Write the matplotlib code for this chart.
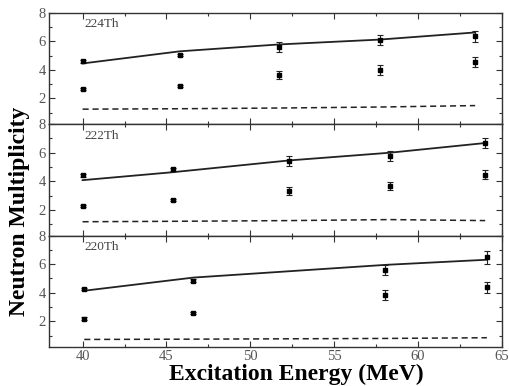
import matplotlib
matplotlib.use("Agg")
import matplotlib.pyplot as plt
import numpy as np

# ---- data ----
labels = ["224Th", "222Th", "220Th"]

x_224 = [40.0, 45.8, 51.7, 57.7, 63.4]
hi_224 = [4.6, 5.04, 5.62, 6.09, 6.35]
hi_err_224 = [0.1, 0.1, 0.35, 0.37, 0.37]
lo_224 = [2.66, 2.87, 3.64, 4.0, 4.55]
lo_err_224 = [0.08, 0.1, 0.3, 0.34, 0.33]
solid_224 = [4.45, 5.3, 5.78, 6.12, 6.62]
dash_224 = [1.25, 1.28, 1.33, 1.4, 1.5]

x_222 = [40.0, 45.4, 52.3, 58.3, 64.0]
hi_222 = [4.41, 4.83, 5.41, 5.76, 6.68]
hi_err_222 = [0.1, 0.1, 0.34, 0.35, 0.36]
lo_222 = [2.28, 2.7, 3.31, 3.66, 4.46]
lo_err_222 = [0.08, 0.08, 0.3, 0.3, 0.3]
solid_222 = [4.08, 4.64, 5.46, 6.0, 6.68]
dash_222 = [1.17, 1.2, 1.25, 1.32, 1.25]

x_220 = [40.1, 46.6, 58.05, 64.1]
hi_220 = [4.26, 4.85, 5.6, 6.47]
hi_err_220 = [0.1, 0.1, 0.37, 0.43]
lo_220 = [2.19, 2.59, 3.84, 4.38]
lo_err_220 = [0.08, 0.08, 0.32, 0.39]
solid_220 = [4.14, 5.06, 5.95, 6.31]
dash_220 = [0.73, 0.75, 0.8, 0.85]

panels = [
    (x_224, hi_224, hi_err_224, lo_224, lo_err_224, solid_224, dash_224),
    (x_222, hi_222, hi_err_222, lo_222, lo_err_222, solid_222, dash_222),
    (x_220, hi_220, hi_err_220, lo_220, lo_err_220, solid_220, dash_220),
]

serif = ["Liberation Serif", "DejaVu Serif"]
plt.rcParams["font.family"] = serif

fig = plt.figure(figsize=(5.09, 3.86), dpi=100)
gs = fig.add_gridspec(3, 1, left=0.0963, right=0.9862, top=0.967, bottom=0.101, hspace=0)

spine_col = "#333333"
tick_col = "#555555"
for i, (lab, (xs, hi, hie, lo, loe, so, da)) in enumerate(zip(labels, panels)):
    ax = fig.add_subplot(gs[i, 0])
    ax.plot(xs, so, color="#222222", lw=1.3)
    ax.plot(xs, da, color="#222222", lw=1.1, ls=(0, (4, 2.5)))
    ax.errorbar(xs, hi, yerr=hie, fmt="s", ms=2.5, color="black", ecolor="#222222",
                elinewidth=0.8, capsize=2, capthick=0.8)
    ax.errorbar(xs, lo, yerr=loe, fmt="s", ms=2.5, color="black", ecolor="#222222",
                elinewidth=0.8, capsize=2, capthick=0.8)
    ax.set_xlim(38, 65)
    ax.set_ylim(0.2, 8)
    ax.set_yticks([2, 4, 6, 8])
    ax.set_yticks([1, 3, 5, 7], minor=True)
    ax.set_xticks([40, 45, 50, 55, 60, 65])
    ax.set_xticks([42.5, 47.5, 52.5, 57.5, 62.5], minor=True)
    ax.tick_params(which="both", direction="in", top=True, right=True, colors=spine_col,
                   labelcolor=tick_col, labelsize=10.5)
    ax.tick_params(which="major", length=4, width=0.8, pad=2.5)
    ax.tick_params(which="minor", length=2.5, width=0.8)
    for s in ax.spines.values():
        s.set_color(spine_col)
        s.set_linewidth(1.0)
    if i < 2:
        ax.tick_params(labelbottom=False)
    ax.text(40.1, 7.2, lab, fontsize=9.5, color="#444444", va="center", ha="left")

fig.text(0.038, 0.453, "Neutron Multiplicity", rotation=90, fontsize=17,
         fontweight="bold", ha="center", va="center", color="black")
fig.text(0.582, 0.031, "Excitation Energy (MeV)", fontsize=17,
         fontweight="bold", ha="center", va="center", color="black")

fig.savefig("out.png", dpi=100)
